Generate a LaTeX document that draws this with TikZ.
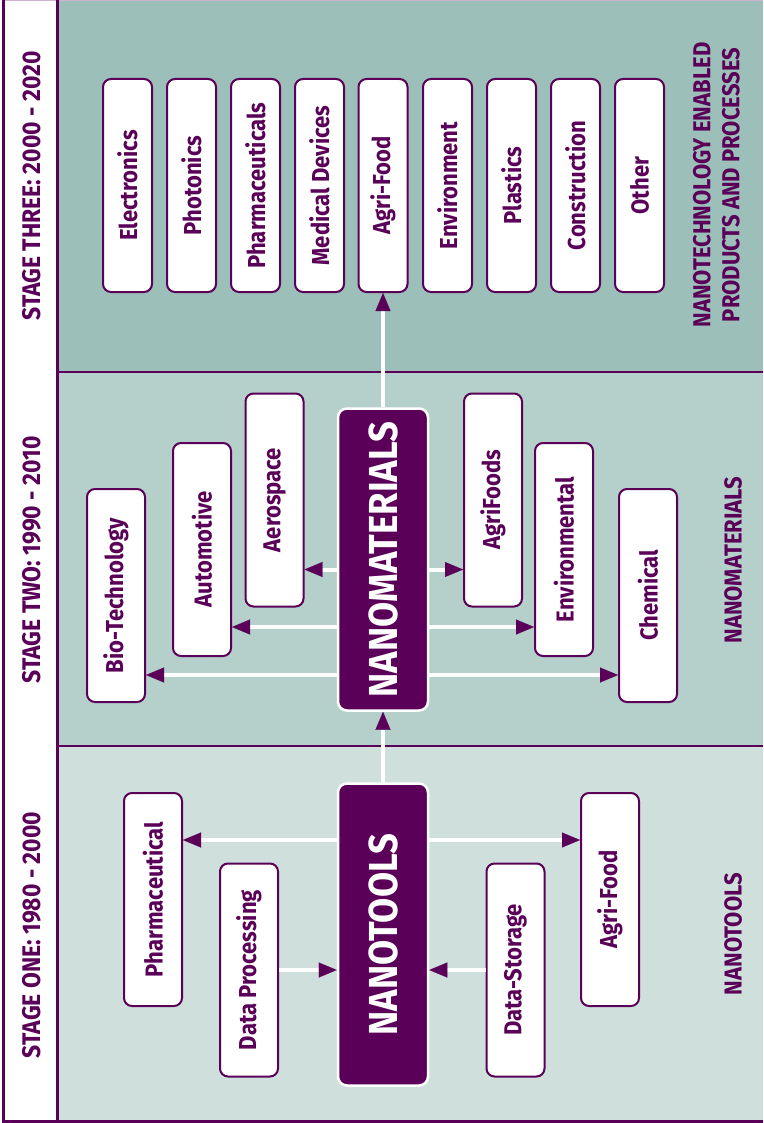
\documentclass[tikz,border=0pt]{standalone}
\usepackage{fontspec}
\setmainfont{Fira Sans}[FakeStretch=0.9]
\usepackage{tikz}
\usetikzlibrary{arrows.meta, positioning}

\definecolor{nanopurple}{HTML}{5A0058}
\definecolor{stagethree}{HTML}{9DBFBA}
\definecolor{stagetwo}{HTML}{B5CFCB}
\definecolor{stageone}{HTML}{CFDFDC}

\begin{document}
\begin{tikzpicture}[x=1pt, y=-1pt,
    area box/.style={draw=nanopurple, line width=2pt, fill=white, rounded corners=8pt,
        inner sep=0pt, minimum width=49pt, minimum height=213pt,
        text=nanopurple, font=\fontsize{24.5}{24.5}\selectfont\bfseries},
    wide box/.style={area box, minimum width=58pt},
    core box/.style={draw=white, line width=2.5pt, fill=nanopurple, rounded corners=9pt,
        inner sep=0pt, minimum width=90pt, minimum height=302pt,
        text=white, font=\fontsize{40.5}{40.5}\selectfont\bfseries},
    stage title/.style={text=nanopurple, font=\fontsize{25.5}{25.5}\selectfont\bfseries},
    stage label/.style={text=nanopurple, align=center, font=\fontsize{24.5}{29}\selectfont\bfseries},
    flow/.style={draw=white, line width=4pt,
        -{Triangle[length=18pt, width=15pt, color=nanopurple, line width=0.1pt]}}]
    \useasboundingbox (0,0) rectangle (763,1123);

    % stage panels
    \fill[white] (3,0) rectangle (58,1121);
    \fill[stagethree] (58,0) rectangle (763,372);
    \fill[stagetwo] (58,372) rectangle (763,746);
    \fill[stageone] (58,746) rectangle (763,1121);
    \draw[nanopurple!30, line width=1.5pt] (3,0.5) -- (763,0.5);
    \draw[nanopurple, line width=3pt] (3.5,0) -- (3.5,1121) -- (763,1121);
    \draw[nanopurple, line width=3pt] (57.5,0) -- (57.5,1121);
    \draw[nanopurple, line width=2.5pt] (57.5,372) -- (763,372);
    \draw[nanopurple, line width=2.5pt] (57.5,746) -- (763,746);

    \node[stage title] (titlethree) at (32,186) {\rotatebox{90}{STAGE THREE:\ 2000 - 2020}};
    \node[stage title] (titletwo) at (32,560) {\rotatebox{90}{STAGE TWO:\ 1990 - 2010}};
    \node[stage title] (titleone) at (32,935) {\rotatebox{90}{STAGE ONE:\ 1980 - 2000}};

    % stage three
    \node[area box] (electronics) at (127.5,185.5) {\rotatebox{90}{Electronics}};
    \node[area box] (photonics) at (191.5,185.5) {\rotatebox{90}{Photonics}};
    \node[area box] (pharmaceuticals) at (255.5,185.5) {\rotatebox{90}{Pharmaceuticals}};
    \node[area box] (medical) at (319.5,185.5) {\rotatebox{90}{Medical Devices}};
    \node[area box] (agrifoodthree) at (383,185.5) {\rotatebox{90}{Agri-Food}};
    \node[area box] (environment) at (447.5,185.5) {\rotatebox{90}{Environment}};
    \node[area box] (plastics) at (511.5,185.5) {\rotatebox{90}{Plastics}};
    \node[area box] (construction) at (575.5,185.5) {\rotatebox{90}{Construction}};
    \node[area box] (other) at (639.5,185.5) {\rotatebox{90}{Other}};

    \node[stage label] (labelthree) at (719,185) {\rotatebox{90}{\begin{tabular}{@{}c@{}}NANOTECHNOLOGY ENABLED\\PRODUCTS AND PROCESSES\end{tabular}}};

    % stage two
    \node[core box] (nanomaterials) at (383,559.5) {\rotatebox{90}{NANOMATERIALS}};

    \node[wide box] (biotech) at (116,595.5) {\rotatebox{90}{Bio-Technology}};
    \node[wide box] (automotive) at (202,549.5) {\rotatebox{90}{Automotive}};
    \node[wide box] (aerospace) at (274.5,500) {\rotatebox{90}{Aerospace}};
    \node[wide box] (agrifoods) at (493,500) {\rotatebox{90}{AgriFoods}};
    \node[wide box] (environmental) at (564,549.5) {\rotatebox{90}{Environmental}};
    \node[wide box] (chemical) at (648,595.5) {\rotatebox{90}{Chemical}};

    \node[stage label] (labeltwo) at (733,560) {\rotatebox{90}{NANOMATERIALS}};

    % stage one
    \node[core box] (nanotools) at (383,934.5) {\rotatebox{90}{NANOTOOLS}};

    \node[wide box] (pharmaceutical) at (153,899.5) {\rotatebox{90}{Pharmaceutical}};
    \node[wide box] (dataprocessing) at (249,970) {\rotatebox{90}{Data Processing}};
    \node[wide box] (datastorage) at (515.5,970) {\rotatebox{90}{Data-Storage}};
    \node[wide box] (agrifoodone) at (610,899.5) {\rotatebox{90}{Agri-Food}};

    \node[stage label] (labelone) at (733,934) {\rotatebox{90}{NANOTOOLS}};

    % connectors
    \coordinate (biotechin) at ([yshift=28pt]biotech.south east);
    \coordinate (automotivein) at ([yshift=30pt]automotive.south east);
    \coordinate (aerospacein) at ([yshift=38pt]aerospace.south east);
    \coordinate (agrifoodsin) at ([yshift=38pt]agrifoods.south west);
    \coordinate (environmentalin) at ([yshift=30pt]environmental.south west);
    \coordinate (chemicalin) at ([yshift=28pt]chemical.south west);
    \coordinate (pharmaceuticalin) at ([yshift=-48pt]pharmaceutical.north east);
    \coordinate (agrifoodonein) at ([yshift=-48pt]agrifoodone.north west);

    \draw[flow] (nanotools) -- (nanomaterials);
    \draw[flow] (nanomaterials) -- (agrifoodthree);
    \draw[flow] (nanomaterials.west |- biotechin) -- (biotechin);
    \draw[flow] (nanomaterials.west |- automotivein) -- (automotivein);
    \draw[flow] (nanomaterials.west |- aerospacein) -- (aerospacein);
    \draw[flow] (nanomaterials.east |- agrifoodsin) -- (agrifoodsin);
    \draw[flow] (nanomaterials.east |- environmentalin) -- (environmentalin);
    \draw[flow] (nanomaterials.east |- chemicalin) -- (chemicalin);
    \draw[flow] (nanotools.west |- pharmaceuticalin) -- (pharmaceuticalin);
    \draw[flow] (nanotools.east |- agrifoodonein) -- (agrifoodonein);
    \draw[flow] (dataprocessing.east) -- (nanotools.west |- dataprocessing.east);
    \draw[flow] (datastorage.west) -- (nanotools.east |- datastorage.west);
\end{tikzpicture}
\end{document}
